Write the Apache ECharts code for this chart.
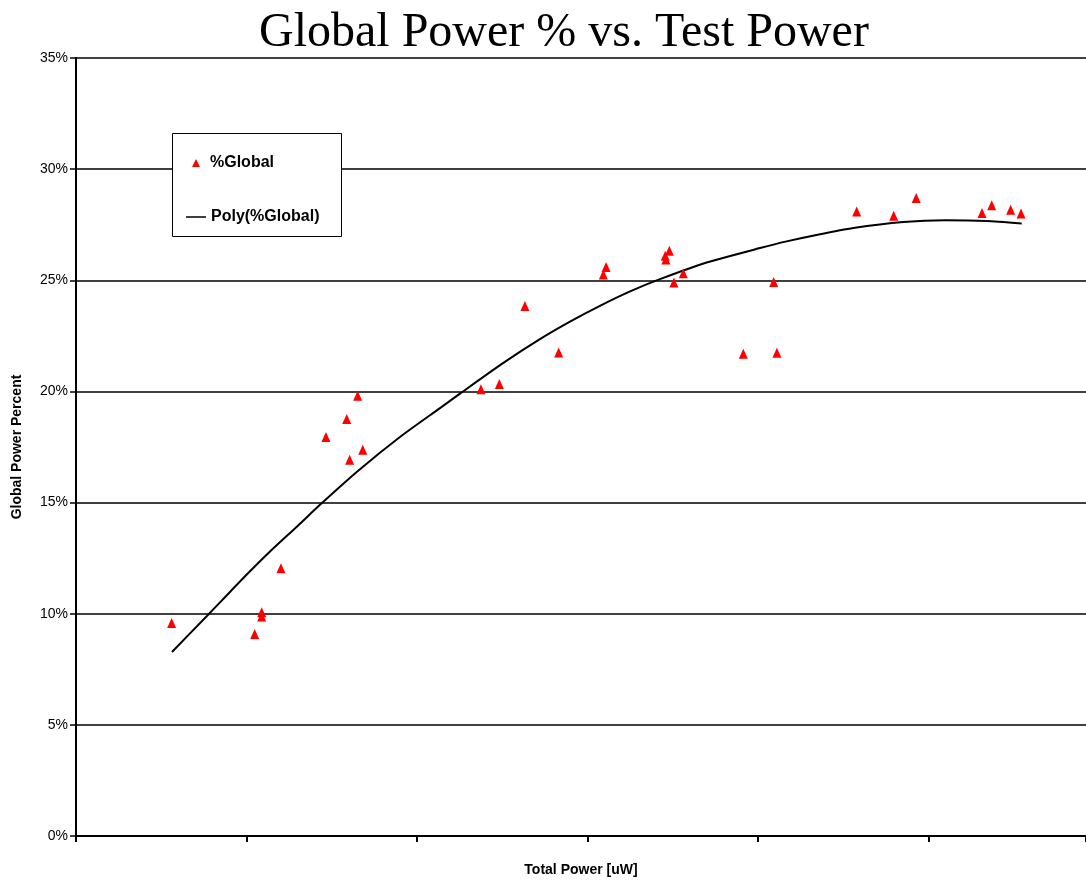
<!DOCTYPE html>
<html>
<head>
<meta charset="utf-8">
<script src="https://cdn.jsdelivr.net/npm/echarts@6/dist/echarts.min.js"></script>
<style>html,body{margin:0;padding:0;background:#fff;}#c{width:1086px;height:882px;}</style>
</head>
<body>
<div id="c"></div>
<script>
// Total power (in x-axis tick units) and global power percent
const pointX = [0.561, 1.048, 1.089, 1.089, 1.202, 1.466, 1.588, 1.605, 1.652, 1.682,
  2.375, 2.483, 2.633, 2.831, 3.093, 3.109, 3.456, 3.480, 3.460, 3.507, 3.562,
  3.914, 4.111, 4.092, 4.579, 4.796, 4.928, 5.314, 5.371, 5.482, 5.543];
const pointY = [9.58, 9.09, 10.07, 9.87, 12.05, 17.95, 18.76, 16.93, 19.8, 17.38,
  20.1, 20.33, 23.84, 21.75, 25.26, 25.6, 26.1, 26.33, 25.93, 24.9, 25.32,
  21.7, 21.74, 24.92, 28.1, 27.9, 28.7, 28.03, 28.38, 28.17, 28.0];
const trendX = [0.563, 0.768, 0.856, 1.0, 1.138, 1.3, 1.431, 1.65, 1.900, 2.135, 2.252, 2.5, 2.721, 2.9, 3.073,
  3.25, 3.425, 3.699, 4.012, 4.168, 4.35, 4.559, 4.852, 5.1, 5.341, 5.547];
const trendY = [8.28, 9.9, 10.6, 11.75, 12.8, 13.95, 14.9, 16.4, 17.95, 19.25, 19.9, 21.25, 22.35, 23.15, 23.85,
  24.5, 25.05, 25.8, 26.45, 26.75, 27.05, 27.35, 27.62, 27.7, 27.67, 27.56];
const yTicks = [0, 5, 10, 15, 20, 25, 30, 35];

const chart = echarts.init(document.getElementById('c'), null, {renderer: 'canvas'});
chart.setOption({
  animation: false,
  backgroundColor: '#fff',
  title: {
    text: 'Global Power % vs. Test Power',
    left: 259, top: 9, padding: 0,
    textStyle: {fontFamily: 'Liberation Serif', fontSize: 48, fontWeight: 'normal', color: '#000'}
  },
  grid: {left: 76, right: 0, top: 58, bottom: 42, containLabel: false},
  xAxis: {
    type: 'value', min: 0, max: 5.924, interval: 1,
    name: 'Total Power [uW]', nameLocation: 'middle', nameGap: 27,
    nameTextStyle: {fontFamily: 'Liberation Sans', fontSize: 14, fontWeight: 'bold', color: '#000'},
    axisLine: {show: true, lineStyle: {color: '#000', width: 2}},
    axisTick: {show: true, length: 6, lineStyle: {color: '#000', width: 2}},
    axisLabel: {show: false},
    splitLine: {show: false}
  },
  yAxis: {
    type: 'value', min: yTicks[0], max: yTicks[yTicks.length - 1], interval: 5,
    name: 'Global Power Percent', nameLocation: 'middle', nameGap: 52,
    nameTextStyle: {fontFamily: 'Liberation Sans', fontSize: 14, fontWeight: 'bold', color: '#000'},
    axisLine: {show: true, lineStyle: {color: '#000', width: 2}},
    axisTick: {show: true, length: 6, lineStyle: {color: '#000', width: 1.5}},
    axisLabel: {formatter: '{value}%', fontFamily: 'Liberation Sans', fontSize: 14, color: '#000', margin: 8},
    splitLine: {show: true, lineStyle: {color: '#000', width: 1.5}}
  },
  graphic: [{
    type: 'rect', z: 50, left: 172, top: 133,
    shape: {width: 169, height: 103},
    style: {fill: '#fff', stroke: '#000', lineWidth: 1}
  }],
  legend: [{
    data: ['%Global'], left: 192, top: 155, padding: 0, z: 60,
    itemWidth: 8, itemHeight: 8, itemGap: 10, icon: 'triangle',
    textStyle: {fontFamily: 'Liberation Sans', fontSize: 16, fontWeight: 'bold', color: '#000', padding: [3, 0, 0, 5]}
  }, {
    data: ['Poly(%Global)'], left: 186, top: 209, padding: 0, z: 60,
    itemWidth: 20, itemHeight: 1.5, icon: 'rect',
    textStyle: {fontFamily: 'Liberation Sans', fontSize: 16, fontWeight: 'bold', color: '#000', padding: [3, 0, 0, 0]}
  }],
  series: [{
    name: '%Global', type: 'scatter', symbol: 'triangle', symbolSize: [9, 10],
    itemStyle: {color: '#ff0000', opacity: 1},
    data: pointX.map((x, i) => [x, pointY[i]]), z: 3
  }, {
    name: 'Poly(%Global)', type: 'line', showSymbol: false, symbol: 'none',
    smooth: 0.2,
    lineStyle: {color: '#000', width: 2}, itemStyle: {color: '#000'},
    data: trendX.map((x, i) => [x, trendY[i]]), z: 2
  }]
});
</script>
</body>
</html>
